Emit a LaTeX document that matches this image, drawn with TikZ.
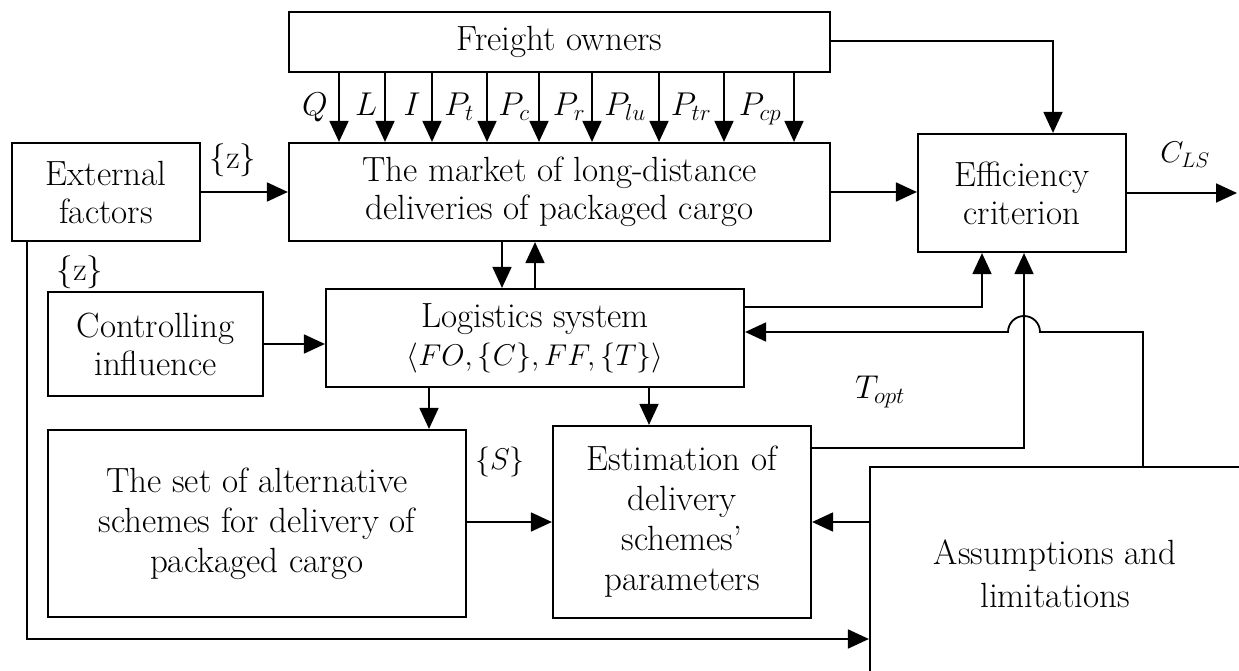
\RequirePackage{fix-cm}
\documentclass[tikz,border=0pt]{standalone}
\usepackage{fontspec}
\usetikzlibrary{arrows.meta}
\begin{document}
\begin{tikzpicture}[x=1pt,y=-1pt,
  font=\fontsize{35}{38}\selectfont,
  box/.style={draw, line width=2.2pt, align=center, inner sep=0pt},
  conn/.style={line width=1.8pt, -{Triangle[length=21pt,width=19pt]}},
  lbl/.style={inner sep=0pt, font=\fontsize{33}{38}\selectfont}]
\useasboundingbox (0,0) rectangle (1239,671);
\clip (0,0) rectangle (1239,671);

% boxes
\node[box, minimum width=541pt, minimum height=60pt] (fo) at (559.5,42) {Freight owners};
\node[box, minimum width=541pt, minimum height=98pt] (market) at (559.5,192) {The market of long-distance\\deliveries of packaged cargo};
\node[box, minimum width=188pt, minimum height=98pt] (ext) at (106,192) {External\\factors};
\node[box, minimum width=208pt, minimum height=118pt] (eff) at (1022,193) {Efficiency\\criterion};
\node[box, minimum width=215pt, minimum height=104pt] (ctrl) at (155.5,344) {Controlling\\influence};
\node[box, minimum width=418pt, minimum height=98pt] (log) at (535,338) {Logistics system\\\fontsize{30}{38}\selectfont$\langle FO,\{C\},FF,\{T\}\rangle$};
\node[box, minimum width=418pt, minimum height=187pt, font=\fontsize{35}{40}\selectfont] (set) at (257,523.5) {The set of alternative\\schemes for delivery of\\packaged cargo};
\node[box, minimum width=258pt, minimum height=192pt, font=\fontsize{35}{40}\selectfont] (est) at (682,522) {Estimation of\\delivery\\schemes’\\parameters};
\node[box, minimum width=370pt, minimum height=213pt, font=\fontsize{35}{43}\selectfont] (ass) at (1055,573.5) {Assumptions and\\limitations};

% freight owner outputs
\foreach \x/\t/\lx [count=\i] in {339/Q/315, 385/L/366, 432/I/412, 487/P_t/459, 539/P_c/514, 592/P_r/569, 659/P_{lu}/625, 724/P_{tr}/691, 794/P_{cp}/760} {
  \draw[conn] (\x,0 |- fo.south) -- (\x,0 |- market.north);
  \node[lbl, anchor=base] (lab\i) at (\lx,116) {$\t$};
}

% connectors
\draw[conn] (fo.east |- 0,41) -- (1053,41) -- (1053,0 |- eff.north);
\draw[conn] (ext.east) -- (ext.east -| market.west);
\draw[conn] (market.east) -- (market.east -| eff.west);
\coordinate (out) at (1237,193);
\draw[conn] (eff.east) -- (out);
\draw[conn] (27,0 |- ext.south) -- (27,639) -- (0,639 -| ass.west);
\draw[conn] (502,0 |- market.south) -- (502,0 |- log.north);
\draw[conn] (535,0 |- log.north) -- (535,0 |- market.south);
\draw[conn] (ctrl.east) -- (ctrl.east -| log.west);
\draw[conn] (log.east |- 0,307) -- (982,307) -- (982,0 |- eff.south);
\draw[conn] (1143,0 |- ass.north) -- (1143,332) -- (1040,332)
   arc[start angle=0, end angle=180, radius=16pt] -- (0,332 -| log.east);
\draw[conn] (est.east |- 0,448) -- (1024,448) -- (1024,0 |- eff.south);
\draw[conn] (429,0 |- log.south) -- (429,0 |- set.north);
\draw[conn] (649,0 |- log.south) -- (649,0 |- est.north);
\draw[conn] (set.east |- 0,522) -- (est.west |- 0,522);
\draw[conn] (ass.west |- 0,522) -- (est.east |- 0,522);

% labels
\node[lbl] (z1) at (233,160) {$\{\mathrm{z}\}$};
\node[lbl] (z2) at (80,272) {$\{\mathrm{z}\}$};
\node[lbl, font=\fontsize{30}{38}\selectfont] (cls) at (1185,155) {$C_{LS}$};
\node[lbl, font=\fontsize{30}{38}\selectfont] (sset) at (500,462) {$\{S\}$};
\node[lbl] (topt) at (880,392) {$T_{opt}$};
\end{tikzpicture}
\end{document}
